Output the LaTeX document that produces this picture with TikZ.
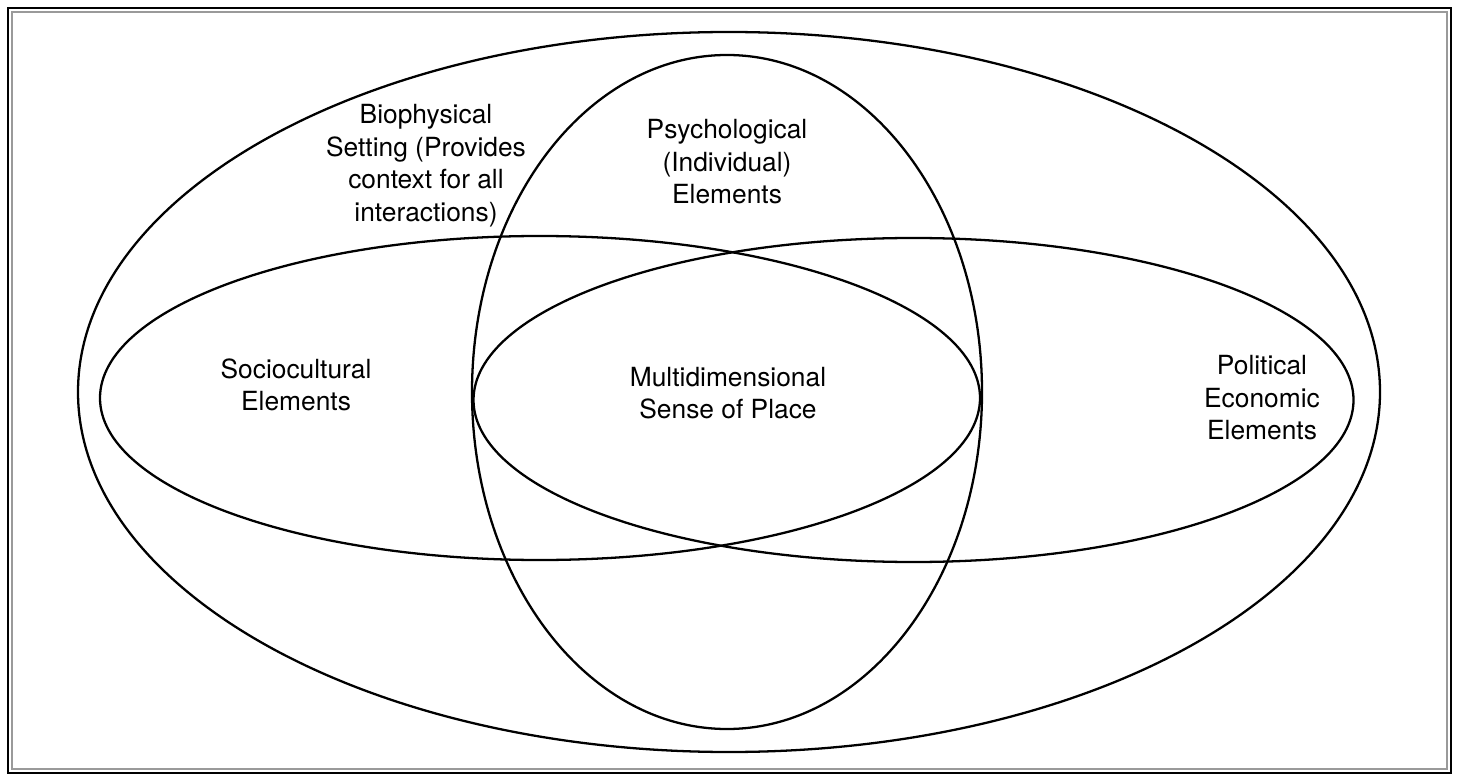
\documentclass[tikz,border=0pt]{standalone}
\usepackage{fontspec}
\setmainfont{TeX Gyre Heros}
\usepackage{tikz}
\definecolor{sgrey}{HTML}{9A9A9A}

\begin{document}
\begin{tikzpicture}[
  every node/.style={font=\fontsize{15}{18.5}\selectfont,align=center,inner sep=0pt},
  ring/.style={line width=1.3pt},
  frame/.style={line width=1.2pt}
]
\useasboundingbox (0,0) rectangle (29.16,15.58);
\draw[frame] (0.16,0.12) rectangle (29.02,15.42);
\draw[sgrey,line width=0.6pt] (0.24,0.20) rectangle (28.94,15.34);

% the four rings
\draw[ring] (14.58,7.74) ellipse [x radius=13.02cm,y radius=7.20cm];
\draw[ring] (14.54,7.74) ellipse [x radius=5.10cm,y radius=6.74cm];
\draw[ring] (10.80,7.62) ellipse [x radius=8.80cm,y radius=3.24cm];
\draw[ring] (18.27,7.58) ellipse [x radius=8.80cm,y radius=3.24cm];

\node (bio) at (8.52,12.27) {Biophysical\\Setting (Provides\\context for all\\interactions)};
\node (psy) at (14.54,12.34) {Psychological\\(Individual)\\Elements};
\node (soc) at (5.92,7.88) {Sociocultural\\Elements};
\node (msp) at (14.56,7.72) {Multidimensional\\Sense of Place};
\node (pee) at (25.24,7.62) {Political\\Economic\\Elements};
\end{tikzpicture}
\end{document}
